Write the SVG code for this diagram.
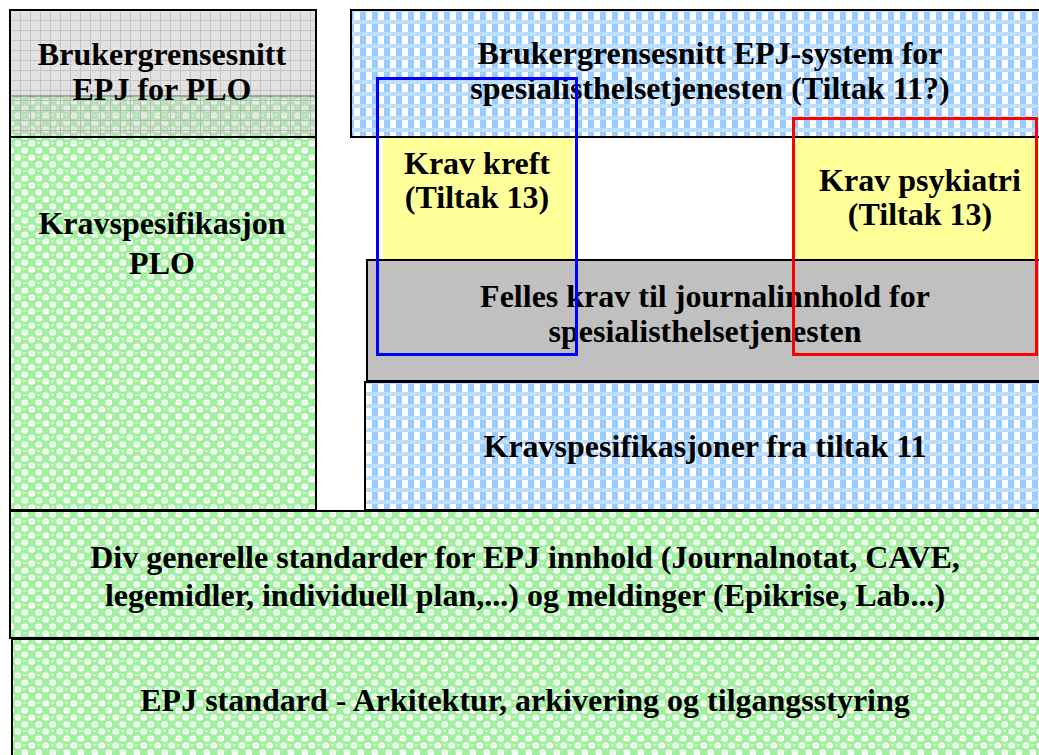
<svg xmlns="http://www.w3.org/2000/svg" width="1039" height="755" viewBox="0 0 1039 755">
<defs>
<pattern id="green" width="14" height="14" patternUnits="userSpaceOnUse">
<rect width="14" height="14" fill="#A0F0A0"/>
<rect x="0.5" y="0.5" width="6.5" height="6" rx="2.5" fill="#FFFFFF"/>
<rect x="7.5" y="7.5" width="6.5" height="6" rx="2.5" fill="#FFFFFF"/>
<rect x="2" y="2.5" width="3.5" height="1" fill="#B8F4B8"/>
<rect x="9" y="9.5" width="3.5" height="1" fill="#B8F4B8"/>
<rect x="9" y="2" width="3" height="2" fill="#FFFFFF" fill-opacity="0.5"/>
</pattern>
<pattern id="blue" width="12" height="12" patternUnits="userSpaceOnUse">
<rect width="12" height="12" fill="#FFFFFF"/>
<rect x="0" y="0" width="6" height="8" fill="#99CCFF"/>
<rect x="0" y="8" width="12" height="4" fill="#BBDDFF"/>
<rect x="6" y="9" width="1" height="1" fill="#FFFFFF"/>
<rect x="2" y="10" width="1" height="1" fill="#FFFFFF"/>
</pattern>
<pattern id="grid" width="10" height="10" patternUnits="userSpaceOnUse">
<rect width="10" height="10" fill="#E2E2E2"/>
<path d="M0 0.5H10M0.5 0V10" stroke="#C4C4C4" stroke-width="1"/>
</pattern>
<pattern id="gridover" width="10" height="10" patternUnits="userSpaceOnUse">
<rect width="10" height="10" fill="#D0D0D0" fill-opacity="0.4"/>
<path d="M0 0.5H10M0.5 0V10" stroke="#B8B8B8" stroke-width="1"/>
</pattern>
</defs>
<style>
text{font-family:"Liberation Serif","Times New Roman",serif;font-weight:bold;font-size:32px;fill:#000;text-anchor:middle}
.box{stroke:#000;stroke-width:2}
</style>
<rect width="1039" height="755" fill="#FFFFFF"/>

<g id="plo-ui">
<rect x="10" y="10" width="306" height="127" fill="url(#grid)"/>
<rect x="10" y="96" width="306" height="41" fill="url(#green)"/>
<rect x="10" y="96" width="306" height="41" fill="url(#gridover)"/>
<line x1="10" y1="96" x2="316" y2="96" stroke="#666" stroke-width="1"/>
<rect class="box" x="10" y="10" width="306" height="127" fill="none"/>
<text x="162" y="65">Brukergrensesnitt</text>
<text x="162" y="100">EPJ for PLO</text>
</g>

<g id="plo-krav">
<rect class="box" x="10" y="137" width="306" height="373" fill="url(#green)"/>
<text x="162" y="234">Kravspesifikasjon</text>
<text x="162" y="274">PLO</text>
</g>

<g id="spes-ui">
<rect class="box" x="351" y="10" width="720" height="127" fill="url(#blue)"/>
<text x="710" y="64">Brukergrensesnitt EPJ-system for</text>
<text x="710" y="99">spesialisthelsetjenesten (Tiltak 11?)</text>
</g>

<g id="krav-kreft">
<rect x="383" y="138" width="190" height="122" fill="#FFFF99"/>
<text x="477" y="174">Krav kreft</text>
<text x="477" y="208">(Tiltak 13)</text>
</g>

<g id="krav-psykiatri">
<rect x="795" y="138" width="260" height="122" fill="#FFFF99"/>
<text x="920" y="191">Krav psykiatri</text>
<text x="920" y="225">(Tiltak 13)</text>
</g>

<g id="felles-krav">
<rect class="box" x="367" y="260" width="700" height="121" fill="#C0C0C0"/>
<text x="705" y="307">Felles krav til journalinnhold for</text>
<text x="705" y="342">spesialisthelsetjenesten</text>
</g>

<g id="tiltak11">
<rect class="box" x="365" y="382" width="700" height="128" fill="url(#blue)"/>
<text x="705" y="457">Kravspesifikasjoner fra tiltak 11</text>
</g>

<g id="div-standarder">
<rect class="box" x="10" y="511" width="1060" height="127" fill="url(#green)"/>
<text x="525" y="568">Div generelle standarder for EPJ innhold (Journalnotat, CAVE,</text>
<text x="525" y="606">legemidler, individuell plan,...) og meldinger (Epikrise, Lab...)</text>
</g>

<g id="epj-standard">
<rect class="box" x="12" y="639" width="1060" height="130" fill="url(#green)"/>
<text x="525" y="711">EPJ standard - Arkitektur, arkivering og tilgangsstyring</text>
</g>

<g id="outlines">
<rect x="377.5" y="78.5" width="199" height="276" fill="none" stroke="#0000FF" stroke-width="3"/>
<rect x="793.5" y="118.5" width="243" height="236" fill="none" stroke="#FF0000" stroke-width="3"/>
</g>
</svg>
